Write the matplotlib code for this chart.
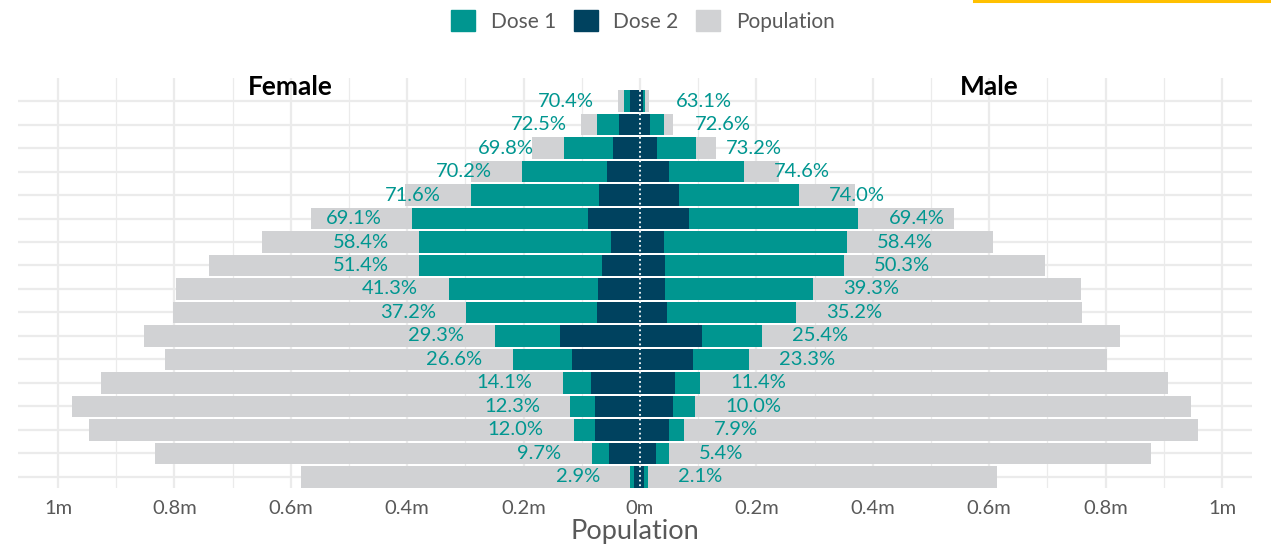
import matplotlib.pyplot as plt
import matplotlib.patches as mpatches
from matplotlib.lines import Line2D
import numpy as np

# rows from top (oldest) to bottom (youngest), values in millions
pop_female = [0.038, 0.102, 0.186, 0.290, 0.403, 0.565, 0.649, 0.740, 0.797,
              0.802, 0.852, 0.816, 0.926, 0.976, 0.947, 0.833, 0.582]
dose1_female = [0.027, 0.074, 0.131, 0.203, 0.290, 0.391, 0.380, 0.380, 0.329,
                0.299, 0.250, 0.219, 0.133, 0.120, 0.114, 0.083, 0.017]
dose2_female = [0.0176, 0.036, 0.046, 0.057, 0.071, 0.090, 0.050, 0.065, 0.072,
                0.074, 0.138, 0.117, 0.084, 0.077, 0.077, 0.053, 0.010]
pct_female = [70.4, 72.5, 69.8, 70.2, 71.6, 69.1, 58.4, 51.4, 41.3,
              37.2, 29.3, 26.6, 14.1, 12.3, 12.0, 9.7, 2.9]

pop_male = [0.015, 0.056, 0.131, 0.239, 0.369, 0.539, 0.606, 0.696, 0.757,
            0.760, 0.825, 0.802, 0.907, 0.946, 0.959, 0.878, 0.613]
dose1_male = [0.0091, 0.042, 0.096, 0.178, 0.273, 0.375, 0.355, 0.350, 0.297,
              0.268, 0.210, 0.187, 0.103, 0.095, 0.075, 0.049, 0.014]
dose2_male = [0.0052, 0.017, 0.029, 0.049, 0.067, 0.084, 0.042, 0.043, 0.043,
              0.047, 0.107, 0.091, 0.060, 0.056, 0.049, 0.028, 0.007]
pct_male = [63.1, 72.6, 73.2, 74.6, 74.0, 69.4, 58.4, 50.3, 39.3,
            35.2, 25.4, 23.3, 11.4, 10.0, 7.9, 5.4, 2.1]

tick_vals = [-1, -0.8, -0.6, -0.4, -0.2, 0, 0.2, 0.4, 0.6, 0.8, 1]
tick_labels = ['1m', '0.8m', '0.6m', '0.4m', '0.2m', '0m', '0.2m', '0.4m', '0.6m', '0.8m', '1m']

teal = '#009690'
navy = '#00425F'
grey = '#D1D2D4'
txt = '#595959'

plt.rcParams['font.family'] = ['Lato', 'DejaVu Sans']

fig = plt.figure(figsize=(12.71, 5.46), dpi=100)
ax = fig.add_axes([18/1271, 58/546, 1234/1271, 410/546])

y = np.arange(len(pop_female))
h = 0.9

ax.barh(y, -np.array(pop_female), height=h, color=grey, zorder=2)
ax.barh(y, pop_male, height=h, color=grey, zorder=2)
ax.barh(y, -np.array(dose1_female), height=h, color=teal, zorder=3)
ax.barh(y, dose1_male, height=h, color=teal, zorder=3)
ax.barh(y, -np.array(dose2_female), height=h, color=navy, zorder=4)
ax.barh(y, dose2_male, height=h, color=navy, zorder=4)

ax.vlines(0, -h/2, y[-1] + h/2, colors='white', linestyles=(0, (1, 1.6)), lw=1.3, zorder=5)

off = 0.052
for i in range(len(y)):
    ax.text(-(dose1_female[i] + off), y[i], f'{pct_female[i]:.1f}%', ha='right', va='center',
            color=teal, fontsize=14.5, zorder=6)
    ax.text(dose1_male[i] + off, y[i], f'{pct_male[i]:.1f}%', ha='left', va='center',
            color=teal, fontsize=14.5, zorder=6)

ax.text(-0.6, -0.6, 'Female', ha='center', va='center', fontsize=19, fontweight='bold', color='black')
ax.text(0.6, -0.6, 'Male', ha='center', va='center', fontsize=19, fontweight='bold', color='black')

ax.set_xlim(-(640 - 18)/582, (1252 - 640)/582)
ax.set_ylim(y[-1] + 0.47, -0.98)

ax.set_xticks(tick_vals)
ax.set_xticklabels(tick_labels, color=txt, fontsize=14.5)
ax.set_xticks(np.arange(-0.9, 1.0, 0.2), minor=True)
ax.set_yticks(y)
ax.set_yticklabels([])
ax.tick_params(axis='both', which='both', length=0, pad=9)
ax.grid(True, which='major', color='#EBEBEB', lw=1.6, zorder=0)
ax.grid(True, which='minor', axis='x', color='#EBEBEB', lw=0.9, zorder=0)
ax.set_axisbelow(True)
for s in ax.spines.values():
    s.set_visible(False)

ax.set_xlabel('Population', color=txt, fontsize=19.5, labelpad=1)

handles = [mpatches.Patch(color=teal, label='Dose 1'),
           mpatches.Patch(color=navy, label='Dose 2'),
           mpatches.Patch(color=grey, label='Population')]
leg = fig.legend(handles=handles, loc='center', bbox_to_anchor=(643/1271, 1 - 21/546), ncol=3,
                 frameon=False, fontsize=15, handlelength=1.15, handleheight=1.15,
                 handletextpad=0.75, columnspacing=0.85)
for t in leg.get_texts():
    t.set_color(txt)

fig.add_artist(Line2D([974/1271, 1], [1 - 1/546, 1 - 1/546], color='#FFC000', lw=2.2))

fig.savefig('out.png', dpi=100)
